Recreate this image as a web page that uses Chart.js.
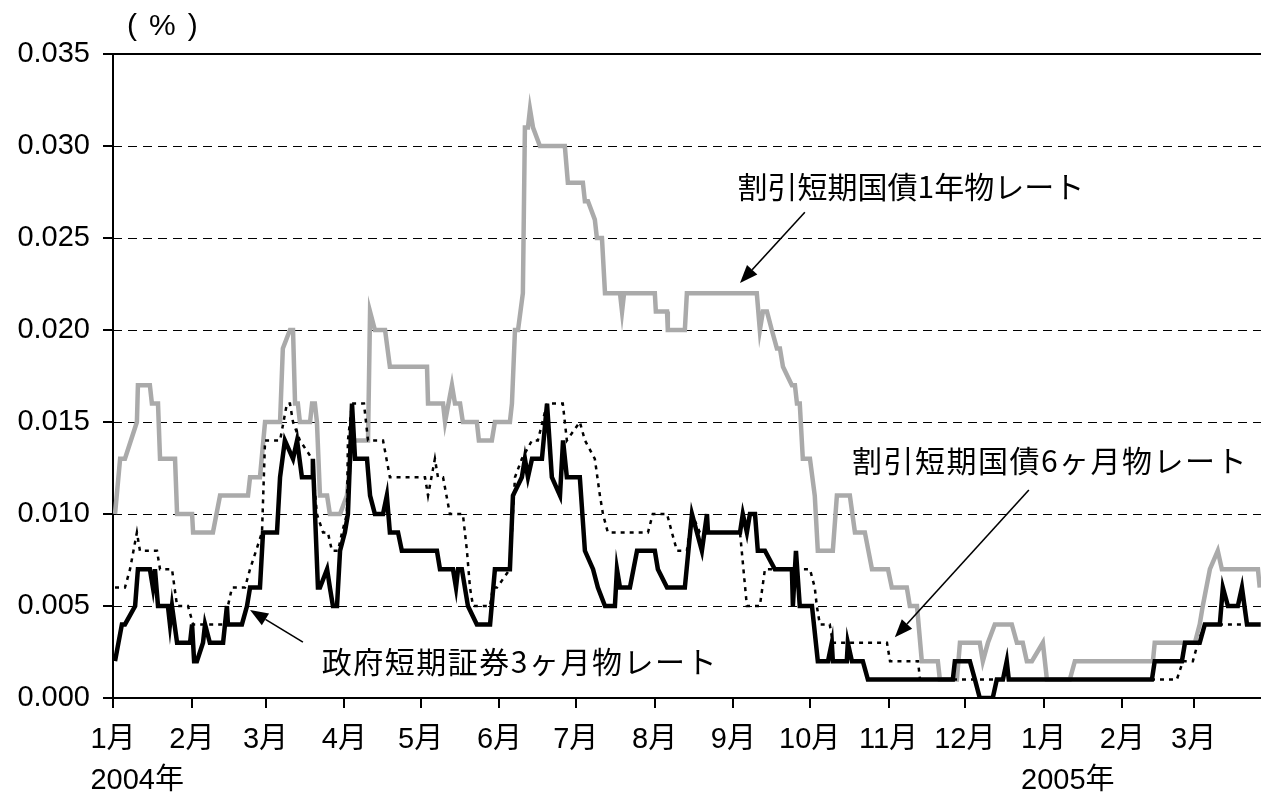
<!DOCTYPE html>
<html>
<head>
<meta charset="utf-8">
<script src="https://cdn.jsdelivr.net/npm/chart.js@4/dist/chart.umd.min.js"></script>
<style>
  html, body { margin: 0; padding: 0; background: #fff; }
  #wrap { width: 1261px; height: 796px; position: relative; }
</style>
</head>
<body>
<div id="wrap"><canvas id="rateChart"></canvas></div>
<script>
// days counted from 2004-01-01
const tickDays = [0, 31, 60, 91, 121, 152, 182, 213, 244, 274, 305, 335, 366, 397, 425];
const tickLabels = ["1月", "2月", "3月", "4月", "5月", "6月", "7月", "8月", "9月", "10月", "11月", "12月", "1月", "2月", "3月"];
const yearDays = [0, 366];
const yearLabels = ["2004年", "2005年"];
const yTicks = [0, 0.005, 0.010, 0.015, 0.020, 0.025, 0.030, 0.035];

// 割引短期国債1年物
const tb1yDays = [0.8, 2.8, 4.7, 9.4, 9.8, 14.5, 15.3, 17.7, 18.5, 24.4, 25.2, 31.1, 31.5, 39.3, 42.1, 53.1, 53.9, 57.8, 59.8, 65.7,
  66.8, 69.6, 70.8, 71.6, 72.7, 73.5, 77.5, 78.3, 79.4, 80.2, 81.4, 84.2, 85.3, 89.3, 92.0, 94.0, 100.3, 101.1, 103.0, 107.0,
  108.9, 123.5, 123.9, 129.8, 130.6, 133.3, 134.5, 136.5, 137.6, 143.1, 143.9, 149.0, 150.2, 156.1, 156.9, 158.1, 159.3, 161.2, 162.0, 163.2,
  164.0, 165.2, 167.9, 177.7, 178.9, 184.8, 185.6, 186.8, 189.5, 190.3, 192.3, 193.5, 199.4, 200.2, 201.0, 213.1, 213.5, 217.9, 218.2, 224.9,
  225.7, 253.2, 254.4, 255.6, 257.2, 259.1, 261.1, 262.3, 263.5, 267.0, 268.2, 269.0, 270.1, 271.3, 274.1, 276.0, 277.2, 283.1, 284.7, 289.8,
  291.8, 295.7, 298.5, 304.8, 306.3, 312.2, 313.4, 316.2, 318.1, 324.4, 325.2, 331.9, 333.1, 340.9, 342.1, 344.1, 346.8, 353.5, 355.5, 357.8,
  359.4, 361.4, 365.7, 367.3, 376.3, 378.3, 409.0, 409.7, 425.5, 427.4, 428.6, 431.4, 434.5, 436.1, 450.3, 451.0];
const tb1yRates = [0.010, 0.013, 0.013, 0.015, 0.017, 0.017, 0.016, 0.016, 0.013, 0.013, 0.010, 0.010, 0.009, 0.009, 0.011, 0.011, 0.012, 0.012, 0.015, 0.015,
  0.019, 0.020, 0.020, 0.016, 0.016, 0.015, 0.015, 0.016, 0.016, 0.015, 0.011, 0.011, 0.010, 0.010, 0.011, 0.014, 0.014, 0.021, 0.020, 0.020,
  0.018, 0.018, 0.016, 0.016, 0.015, 0.017, 0.016, 0.016, 0.015, 0.015, 0.014, 0.014, 0.015, 0.015, 0.016, 0.020, 0.020, 0.022, 0.031, 0.031,
  0.032, 0.031, 0.030, 0.030, 0.028, 0.028, 0.027, 0.027, 0.026, 0.025, 0.025, 0.022, 0.022, 0.021, 0.022, 0.022, 0.021, 0.021, 0.020, 0.020,
  0.022, 0.022, 0.020, 0.021, 0.021, 0.020, 0.019, 0.019, 0.018, 0.017, 0.017, 0.016, 0.016, 0.013, 0.013, 0.011, 0.008, 0.008, 0.011, 0.011,
  0.009, 0.009, 0.007, 0.007, 0.006, 0.006, 0.005, 0.005, 0.002, 0.002, 0.001, 0.001, 0.003, 0.003, 0.002, 0.003, 0.004, 0.004, 0.003, 0.003,
  0.002, 0.002, 0.003, 0.001, 0.001, 0.002, 0.002, 0.003, 0.003, 0.004, 0.005, 0.007, 0.008, 0.007, 0.007, 0.006];

// 割引短期国債6ヶ月物
const tb6mDays = [0.8, 4.7, 6.7, 9.4, 10.6, 17.3, 18.5, 23.2, 25.2, 29.5, 31.5, 44.0, 45.2, 46.8, 51.9, 53.9, 58.6, 59.8, 65.7, 68.4,
  69.6, 70.8, 73.5, 78.3, 80.2, 82.6, 84.5, 86.1, 88.5, 90.1, 92.0, 92.4, 94.0, 98.7, 100.3, 106.2, 108.9, 122.7, 123.9, 126.6,
  127.8, 129.8, 132.5, 137.6, 139.2, 140.4, 141.6, 148.3, 149.4, 151.0, 156.1, 158.1, 160.8, 164.8, 167.1, 170.7, 176.9, 178.5, 183.6, 185.6,
  189.5, 191.5, 192.7, 194.6, 210.4, 212.3, 217.9, 219.8, 221.8, 225.7, 227.7, 230.8, 246.6, 249.3, 254.4, 256.4, 274.1, 276.0, 276.8, 278.0,
  281.9, 283.1, 304.4, 305.6, 316.6, 317.4, 418.4, 420.8, 424.7, 426.7, 429.4, 451.4];
const tb6mRates = [0.006, 0.006, 0.007, 0.009, 0.008, 0.008, 0.007, 0.007, 0.005, 0.005, 0.004, 0.004, 0.005, 0.006, 0.006, 0.007, 0.009, 0.014, 0.014, 0.016,
  0.016, 0.015, 0.014, 0.013, 0.010, 0.009, 0.009, 0.008, 0.008, 0.009, 0.010, 0.014, 0.016, 0.016, 0.014, 0.014, 0.012, 0.012, 0.011, 0.013,
  0.012, 0.012, 0.010, 0.010, 0.008, 0.006, 0.005, 0.005, 0.006, 0.006, 0.007, 0.012, 0.013, 0.014, 0.014, 0.016, 0.016, 0.014, 0.015, 0.014,
  0.013, 0.011, 0.010, 0.009, 0.009, 0.010, 0.010, 0.009, 0.008, 0.008, 0.010, 0.009, 0.009, 0.005, 0.005, 0.007, 0.007, 0.006, 0.005, 0.004,
  0.004, 0.003, 0.003, 0.002, 0.002, 0.001, 0.001, 0.002, 0.002, 0.003, 0.004, 0.004];

// 政府短期証券3ヶ月物
const fb3mDays = [0.8, 3.5, 4.7, 8.7, 9.8, 14.5, 15.7, 16.5, 17.7, 21.6, 22.4, 23.2, 25.2, 30.3, 31.1, 31.9, 33.0, 35.4, 36.2, 38.1,
  43.3, 44.8, 45.2, 50.7, 52.7, 53.9, 57.8, 59.0, 64.5, 65.7, 67.6, 70.8, 72.4, 74.3, 78.3, 78.6, 80.6, 81.4, 84.2, 85.3,
  86.5, 88.1, 89.3, 91.2, 92.4, 94.0, 95.2, 99.9, 101.1, 103.0, 106.2, 107.7, 108.9, 112.1, 113.6, 127.4, 128.6, 133.7, 134.9, 135.7,
  137.2, 139.6, 143.1, 148.3, 150.2, 156.1, 157.3, 160.8, 162.0, 163.2, 164.8, 168.7, 170.7, 172.6, 175.8, 177.0, 178.5, 183.6, 185.6, 188.8,
  190.7, 193.5, 197.4, 198.2, 199.4, 203.3, 206.1, 213.1, 214.3, 217.9, 224.9, 227.7, 231.6, 233.6, 234.0, 246.6, 247.7, 249.3, 250.5, 252.5,
  253.6, 256.4, 260.3, 267.0, 267.4, 268.6, 270.1, 274.9, 277.2, 281.2, 282.7, 283.1, 288.6, 289.0, 290.6, 294.9, 296.9, 330.3, 331.1, 337.0,
  339.0, 340.9, 346.0, 347.6, 350.0, 351.5, 352.3, 408.6, 409.7, 420.4, 421.6, 427.4, 429.4, 435.3, 436.5, 438.5, 442.4, 444.0, 446.0, 451.4];
const fb3mRates = [0.002, 0.004, 0.004, 0.005, 0.007, 0.007, 0.006, 0.007, 0.005, 0.005, 0.004, 0.005, 0.003, 0.003, 0.004, 0.002, 0.002, 0.003, 0.004, 0.003,
  0.003, 0.005, 0.004, 0.004, 0.005, 0.006, 0.006, 0.009, 0.009, 0.012, 0.014, 0.013, 0.014, 0.012, 0.012, 0.013, 0.006, 0.006, 0.007, 0.006,
  0.005, 0.005, 0.008, 0.009, 0.010, 0.016, 0.013, 0.013, 0.011, 0.010, 0.010, 0.011, 0.009, 0.009, 0.008, 0.008, 0.007, 0.007, 0.006, 0.007,
  0.007, 0.005, 0.004, 0.004, 0.007, 0.007, 0.011, 0.012, 0.013, 0.012, 0.013, 0.013, 0.016, 0.012, 0.011, 0.014, 0.012, 0.012, 0.008, 0.007,
  0.006, 0.005, 0.005, 0.007, 0.006, 0.006, 0.008, 0.008, 0.007, 0.006, 0.006, 0.010, 0.008, 0.010, 0.009, 0.009, 0.010, 0.009, 0.010, 0.010,
  0.008, 0.008, 0.007, 0.007, 0.005, 0.008, 0.005, 0.005, 0.002, 0.002, 0.003, 0.002, 0.002, 0.003, 0.002, 0.002, 0.001, 0.001, 0.002, 0.002,
  0.001, 0.000, 0.000, 0.001, 0.001, 0.002, 0.001, 0.001, 0.002, 0.002, 0.003, 0.003, 0.004, 0.004, 0.006, 0.005, 0.005, 0.006, 0.004, 0.004];

// callouts, placed in data units (day, rate)
const callouts = [
  { text: "割引短期国債1年物レート", at: [313.8, 0.0278], from: [272.1, 0.0264], to: [246.6, 0.02255], spacing: 0 },
  { text: "割引短期国債6ヶ月物レート", at: [368.5, 0.0129], from: [360.2, 0.0113], to: [307.5, 0.0033], spacing: 1.5 },
  { text: "政府短期証券3ヶ月物レート", at: [160.0, 0.00196], from: [74.7, 0.00304], to: [53.9, 0.00478], spacing: 1.5 },
];

const toPoints = (xs, ys) => xs.map((x, i) => ({ x: x, y: ys[i] }));

const JP = '"Noto Sans CJK JP", sans-serif';
const NUM = '"Liberation Sans", "Noto Sans CJK JP", sans-serif';

const extras = {
  id: "extras",
  beforeDatasetsDraw(chart) {
    const { ctx, chartArea: a, scales } = chart;
    ctx.save();
    ctx.strokeStyle = "#000";
    ctx.lineWidth = 1;
    ctx.setLineDash([9, 6]);
    yTicks.forEach(function (v) {
      if (v === 0 || v === yTicks[yTicks.length - 1]) return;
      const y = Math.round(scales.y.getPixelForValue(v)) + 0.5;
      ctx.beginPath();
      ctx.moveTo(a.left, y);
      ctx.lineTo(a.right, y);
      ctx.stroke();
    });
    ctx.setLineDash([]);
    ctx.lineWidth = 2;
    const top = scales.y.getPixelForValue(yTicks[yTicks.length - 1]);
    ctx.beginPath();
    ctx.moveTo(a.left, top);
    ctx.lineTo(a.right, top);
    ctx.stroke();
    ctx.restore();
  },
  afterDraw(chart) {
    const { ctx, chartArea: a, scales } = chart;
    ctx.save();
    ctx.fillStyle = "#000";
    ctx.strokeStyle = "#000";

    // unit label
    ctx.font = "30px " + NUM;
    ctx.textAlign = "left";
    ctx.textBaseline = "middle";
    ctx.letterSpacing = "12px";
    ctx.fillText("(%)", a.left + 14, 27);
    ctx.letterSpacing = "0px";

    // year labels under January ticks
    ctx.font = "29px " + NUM;
    ctx.textAlign = "left";
    const half = ctx.measureText("1月").width / 2;
    yearDays.forEach(function (d, i) {
      ctx.fillText(yearLabels[i], scales.x.getPixelForValue(d) - half, 781);
    });

    // callouts
    callouts.forEach(function (c) {
      const tx = scales.x.getPixelForValue(c.at[0]);
      const ty = scales.y.getPixelForValue(c.at[1]);
      ctx.font = "30px " + JP;
      ctx.textAlign = "center";
      ctx.textBaseline = "middle";
      ctx.letterSpacing = c.spacing + "px";
      ctx.fillText(c.text, tx, ty);
      ctx.letterSpacing = "0px";

      const x1 = scales.x.getPixelForValue(c.from[0]);
      const y1 = scales.y.getPixelForValue(c.from[1]);
      const x2 = scales.x.getPixelForValue(c.to[0]);
      const y2 = scales.y.getPixelForValue(c.to[1]);
      const ang = Math.atan2(y2 - y1, x2 - x1);
      const len = 18, w = 7;
      const bx = x2 - len * Math.cos(ang);
      const by = y2 - len * Math.sin(ang);
      ctx.lineWidth = 1.6;
      ctx.beginPath();
      ctx.moveTo(x1, y1);
      ctx.lineTo(bx, by);
      ctx.stroke();
      ctx.beginPath();
      ctx.moveTo(x2, y2);
      ctx.lineTo(bx + w * Math.sin(ang), by - w * Math.cos(ang));
      ctx.lineTo(bx - w * Math.sin(ang), by + w * Math.cos(ang));
      ctx.closePath();
      ctx.fill();
    });
    ctx.restore();
  },
};

new Chart(document.getElementById("rateChart"), {
  type: "line",
  data: {
    datasets: [
      {
        label: "政府短期証券3ヶ月物レート",
        data: toPoints(fb3mDays, fb3mRates),
        borderColor: "#000",
        borderWidth: 4.5,
      },
      {
        label: "割引短期国債6ヶ月物レート",
        data: toPoints(tb6mDays, tb6mRates),
        borderColor: "#000",
        borderWidth: 2.5,
        borderDash: [4, 5],
      },
      {
        label: "割引短期国債1年物レート",
        data: toPoints(tb1yDays, tb1yRates),
        borderColor: "#aaaaaa",
        borderWidth: 4.5,
      },
    ],
  },
  options: {
    responsive: true,
    maintainAspectRatio: false,
    animation: false,
    elements: { point: { radius: 0 }, line: { tension: 0, fill: false } },
    layout: { padding: { top: 54, right: 0, left: 0, bottom: 0 } },
    plugins: { legend: { display: false }, tooltip: { enabled: false } },
    scales: {
      x: {
        type: "linear",
        min: 0,
        max: 451.5,
        afterBuildTicks: function (s) {
          s.ticks = tickDays.map((d) => ({ value: d }));
        },
        afterFit: function (s) { s.height = 98; },
        ticks: {
          autoSkip: false,
          maxRotation: 0,
          padding: 15,
          color: "#000",
          font: { size: 29, family: NUM },
          callback: function (v, i) { return tickLabels[i]; },
        },
        grid: { drawOnChartArea: false, drawTicks: true, tickLength: 10, color: "#000", lineWidth: 2 },
        border: { display: true, color: "#000", width: 2 },
      },
      y: {
        min: 0,
        max: 0.035,
        afterBuildTicks: function (s) {
          s.ticks = yTicks.map((v) => ({ value: v }));
        },
        afterFit: function (s) { s.width = 113; },
        ticks: {
          padding: 13,
          color: "#000",
          font: { size: 29, family: NUM },
          callback: function (v) { return Number(v).toFixed(3); },
        },
        grid: { drawOnChartArea: false, drawTicks: true, tickLength: 10, color: "#000", lineWidth: 2 },
        border: { display: true, color: "#000", width: 2 },
      },
    },
  },
  plugins: [extras],
});
</script>
</body>
</html>
